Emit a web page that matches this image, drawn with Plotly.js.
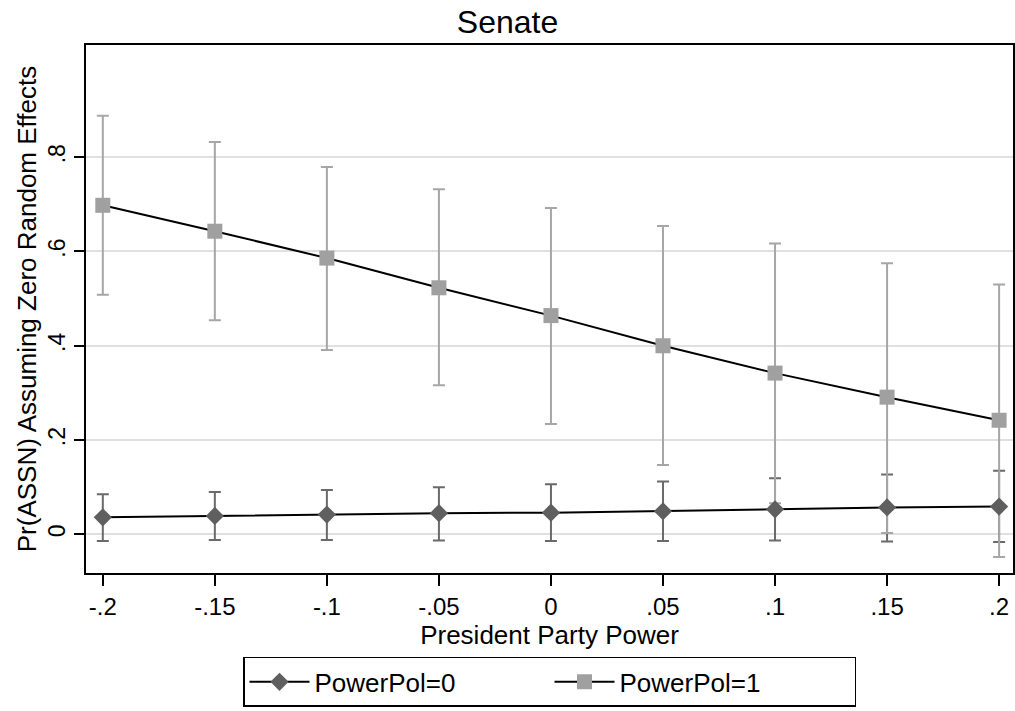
<!DOCTYPE html>
<html><head><meta charset="utf-8">
<script src="https://cdn.plot.ly/plotly-3.0.1.min.js"></script>
<style>body{margin:0;background:#fff}#c{width:1015px;height:711px}</style>
</head><body><div id="c"></div>
<script>
const xVals = [-0.2, -0.15, -0.1, -0.05, 0, 0.05, 0.1, 0.15, 0.2];
const pp0 = [0.036, 0.039, 0.042, 0.045, 0.046, 0.049, 0.053, 0.057, 0.059];
const pp0Upper = [0.085, 0.090, 0.094, 0.100, 0.106, 0.112, 0.119, 0.127, 0.135];
const pp0Lower = [-0.014, -0.012, -0.012, -0.013, -0.014, -0.014, -0.013, -0.015, -0.016];
const pp1 = [0.698, 0.643, 0.586, 0.523, 0.464, 0.400, 0.342, 0.291, 0.242];
const pp1Upper = [0.888, 0.832, 0.779, 0.732, 0.692, 0.654, 0.617, 0.575, 0.530];
const pp1Lower = [0.508, 0.454, 0.391, 0.316, 0.234, 0.147, 0.066, 0.003, -0.048];
const xTickVals = [-0.2, -0.15, -0.1, -0.05, 0, 0.05, 0.1, 0.15, 0.2];
const xTickText = ['-.2', '-.15', '-.1', '-.05', '0', '.05', '.1', '.15', '.2'];
const yTickVals = [0, 0.2, 0.4, 0.6, 0.8];
const yTickText = ['0', '.2', '.4', '.6', '.8'];

function errTrace(y, up, lo, color) {
  return {x: xVals, y: y, type: 'scatter', mode: 'markers', showlegend: false, hoverinfo: 'skip',
    marker: {size: 0.1, color: 'rgba(0,0,0,0)'},
    error_y: {type: 'data', symmetric: false,
      array: up.map((u, i) => u - y[i]), arrayminus: lo.map((l, i) => y[i] - l),
      color: color, thickness: 2, width: 6}};
}
const font = '"Liberation Sans", Arial, sans-serif';
const data = [
  errTrace(pp0, pp0Upper, pp0Lower, '#6a6a6a'),
  errTrace(pp1, pp1Upper, pp1Lower, '#a6a6a6'),
  {x: xVals, y: pp0, type: 'scatter', mode: 'lines+markers', name: 'PowerPol=0',
   line: {color: '#000', width: 2}, marker: {symbol: 'diamond', size: 14, color: '#5f5f5f'}},
  {x: xVals, y: pp1, type: 'scatter', mode: 'lines+markers', name: 'PowerPol=1',
   line: {color: '#000', width: 2}, marker: {symbol: 'square', size: 15, color: '#a0a0a0'}}
];
const layout = {
  width: 1015, height: 711,
  margin: {l: 86, r: 2, t: 45, b: 138},
  paper_bgcolor: '#fff', plot_bgcolor: '#fff',
  font: {family: font, color: '#000', size: 24},
  title: {text: 'Senate', x: 0.5, xanchor: 'center', y: 0.969, yanchor: 'middle', font: {size: 32, family: font}},
  xaxis: {range: [-0.2075, 0.2062], tickvals: xTickVals, ticktext: xTickText,
    ticks: 'outside', ticklen: 11, tickwidth: 1.5, tickcolor: '#000',
    showline: true, linecolor: '#000', linewidth: 1.5, mirror: true,
    showgrid: false, zeroline: false, tickfont: {size: 24},
    title: {text: 'President Party Power', font: {size: 26}, standoff: 0}},
  yaxis: {range: [-0.082, 1.038], tickvals: yTickVals, ticktext: yTickText, tickangle: -90,
    ticks: 'outside', ticklen: 10, tickwidth: 1.5, tickcolor: '#000',
    showline: true, linecolor: '#000', linewidth: 1.5, mirror: true,
    showgrid: true, gridcolor: '#e0e0e0', gridwidth: 2, zeroline: false, tickfont: {size: 23},
    title: {text: 'Pr(ASSN) Assuming Zero Random Effects', font: {size: 26}, standoff: 0}},
  legend: {orientation: 'h', x: 0.5, xanchor: 'center', y: -0.159, yanchor: 'top',
    bordercolor: '#000', borderwidth: 1.5, font: {size: 26}, itemwidth: 60,
    entrywidth: 230, traceorder: 'normal'},
  showlegend: true
};
Plotly.newPlot('c', data, layout, {displayModeBar: false});
</script></body></html>
